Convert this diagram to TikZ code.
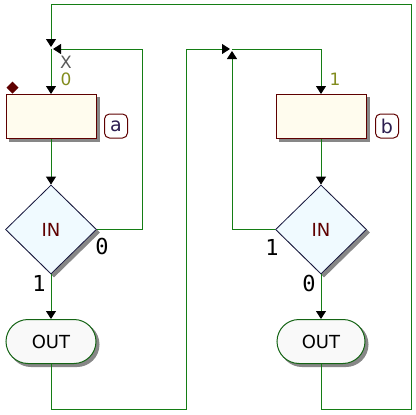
\documentclass[tikz,border=0pt]{standalone}
\usepackage{fontspec}
\setmainfont{DejaVu Sans}
\newfontfamily\digitfont{DejaVu Sans Mono}
\usetikzlibrary{arrows.meta,shapes.geometric,shapes.misc,calc}
\definecolor{wire}{RGB}{20,125,20}
\definecolor{boxred}{RGB}{95,0,0}
\definecolor{cream}{RGB}{255,252,238}
\definecolor{icecyan}{RGB}{240,250,255}
\definecolor{termfill}{RGB}{249,249,249}
\definecolor{termgreen}{RGB}{20,100,20}
\definecolor{navy}{RGB}{20,20,60}
\definecolor{olivetxt}{RGB}{130,140,30}
\definecolor{labelink}{RGB}{45,30,80}
\definecolor{shadowgray}{RGB}{135,135,135}
\definecolor{xgray}{RGB}{90,90,90}
\tikzset{
  x=1pt, y=-1pt,
  wire/.style={draw=wire, line width=1pt, -{Triangle[width=10pt,length=8pt,black]}},
  shd/.style={preaction={draw=shadowgray, fill=shadowgray, transform canvas={shift={(3pt,-3pt)}}}},
  sanstxt/.style={font=\fontsize{18}{20}\selectfont},
  actbox/.style={rectangle, draw=boxred, fill=cream, line width=1pt, minimum width=90pt, minimum height=44pt, inner sep=0pt, shd},
  decide/.style={diamond, draw=navy, fill=icecyan, line width=0.8pt, minimum width=91pt, minimum height=89pt, inner sep=0pt, shd, sanstxt, text=boxred},
  term/.style={rounded rectangle, draw=termgreen, fill=termfill, line width=1pt, minimum height=44pt, inner sep=0pt, shd, sanstxt, text=black},
  tag/.style={rectangle, rounded corners=5pt, draw=boxred, fill=white, line width=1pt, minimum width=23pt, minimum height=24pt, inner sep=0pt, font=\fontsize{19}{20}\selectfont, text=labelink},
  branch/.style={font=\digitfont\fontsize{22}{22}\selectfont, text=black, inner sep=0pt},
  varname/.style={font=\fontsize{17}{18}\selectfont, inner sep=0pt},
}
\begin{document}
\begin{tikzpicture}
\useasboundingbox (0,0) rectangle (416,415);
% nodes
\node[actbox] (boxa) at (51,116.5) {};
\node[actbox] (boxb) at (321,116.5) {};
\node[tag] (taga) at (116,126) {a};
\node[tag] (tagb) at (387,126) {b};
\node[decide] (da) at (51,229.5) {IN};
\node[decide] (db) at (321,229.5) {IN};
\node[term, minimum width=90pt] (outa) at (51,341.5) {OUT};
\node[term, minimum width=88pt] (outb) at (321,341.5) {OUT};
% texts
\node[varname, text=xgray] (xname) at (66,62) {X};
\node[varname, text=olivetxt] (xinit) at (66,79) {0};
\node[varname, text=olivetxt] (binit) at (335,79) {1};
\node[branch] (da0) at (102,246) {0};
\node[branch] (da1) at (39,283) {1};
\node[branch] (db1) at (272,247) {1};
\node[branch] (db0) at (309,283) {0};
% initial marker
\fill[boxred] (12.5,81.5) -- (18.5,87.5) -- (12.5,93.5) -- (6.5,87.5) -- cycle;
% junctions
\coordinate (ja) at (51,49);
\coordinate (jb) at (232,49);
% connectors
\draw[wire] (outb.south) -- ++(0,45) -| (411,4) -| ($(ja)+(0,-2)$);
\draw[wire] (da.east) -| (142,49) -- ($(ja)+(2,0)$);
\draw[wire] (ja) -- (boxa.north);
\draw[wire] (boxa.south) -- (da.north);
\draw[wire] (da.south) -- (outa.north);
\draw[wire] (outa.south) -- ++(0,45) -| (186,49) -- ($(jb)+(-2,0)$);
\draw[wire] (jb) -| (boxb.north);
\draw[wire] (db.west) -| ($(jb)+(0,2)$);
\draw[wire] (boxb.south) -- (db.north);
\draw[wire] (db.south) -- (outb.north);
\end{tikzpicture}
\end{document}
